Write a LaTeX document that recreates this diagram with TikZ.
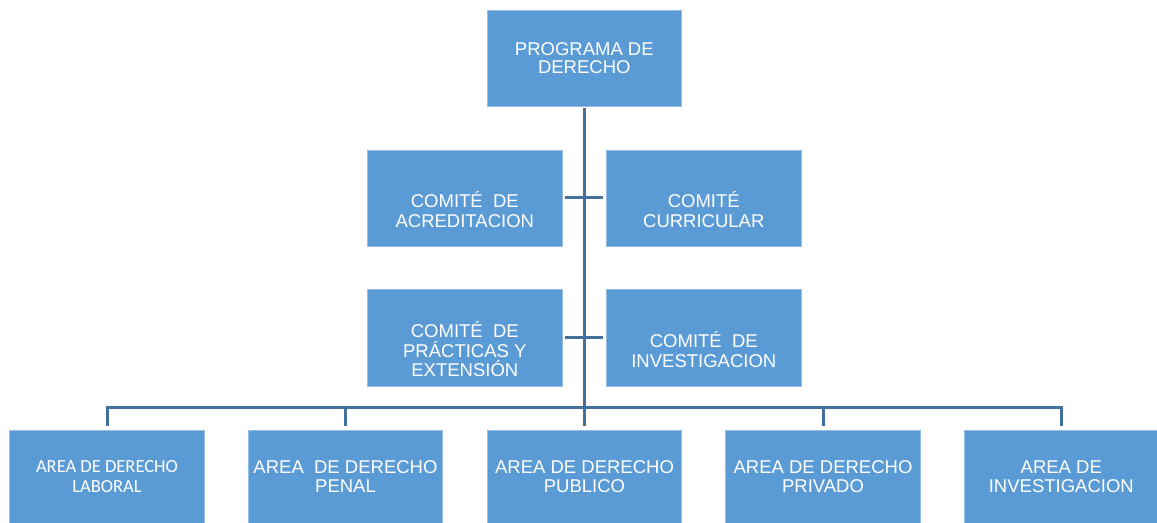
\documentclass[tikz,border=0pt]{standalone}
\usepackage{fontspec}
\setmainfont{Liberation Sans}
\newfontfamily\calib{Carlito}
\definecolor{boxblue}{HTML}{5B9BD5}
\definecolor{lineblue}{HTML}{41719C}
\begin{document}
\begin{tikzpicture}[x=1bp,y=-1bp,
  box/.style={rectangle, fill=boxblue, draw=white!35!boxblue, line width=0.6bp,
    minimum width=194.5bp, minimum height=96bp, inner sep=0pt, text=white,
    align=center, font=\fontsize{18.5bp}{18.5bp}\selectfont},
  lowbox/.style={box, minimum height=93bp},
  cmtext/.style={text=white, align=center, inner sep=0pt, yshift=-11.5bp,
    font=\fontsize{18.5bp}{20bp}\selectfont},
  conn/.style={draw=lineblue, line width=3bp, line join=miter}]
\useasboundingbox (0,0) rectangle (1157,523);
\clip (0,0) rectangle (1157,523);
% top
\node[box] (top) at (584.3,58) {PROGRAMA DE\\DERECHO};
% committees
\node[box, label={[name=c1t, cmtext]center:{COMITÉ\ \ DE\\ACREDITACION}}] (c1) at (464.8,198) {};
\node[box, label={[name=c2t, cmtext]center:{COMITÉ\\CURRICULAR}}] (c2) at (703.8,198) {};
\node[box, label={[name=c3t, cmtext, font=\fontsize{18.5bp}{19.5bp}\selectfont]center:{COMITÉ\ \ DE\\PRÁCTICAS Y\\EXTENSIÓN}}] (c3) at (464.8,337.8) {};
\node[box, label={[name=c4t, cmtext]center:{COMITÉ\ \ DE\\INVESTIGACION}}] (c4) at (703.8,337.8) {};
% bottom areas
\node[lowbox, font=\calib\fontsize{18.5bp}{20bp}\selectfont] (b1) at (107,476.5) {AREA DE DERECHO\\LABORAL};
\node[lowbox] (b2) at (345.5,476.5) {AREA\ \ DE DERECHO\\PENAL};
\node[lowbox, font=\fontsize{18.5bp}{19bp}\selectfont] (b3) at (584.5,476.5) {AREA DE DERECHO\\PUBLICO};
\node[lowbox, font=\fontsize{18.5bp}{19bp}\selectfont] (b4) at (823,476.5) {AREA DE DERECHO\\PRIVADO};
\node[lowbox, font=\fontsize{18.5bp}{19bp}\selectfont] (b5) at (1061.3,476.5) {AREA DE\\INVESTIGACION};
% connectors
\coordinate (vend) at ([yshift=3.3bp]b3.north);
\draw[conn] ([yshift=-2bp]top.south) -- (top.south |- vend);
\draw[conn] ([xshift=2.7bp]c1.east) -- ([xshift=-3.7bp]c2.west);
\draw[conn] ([xshift=2.7bp]c3.east) -- ([xshift=-3.7bp]c4.west);
\draw[conn] ([yshift=3.3bp]b1.north) -- ([yshift=22.3bp]b1.north) -- ([yshift=22.3bp]b5.north) -- ([yshift=3.3bp]b5.north);
\draw[conn] ([yshift=3.3bp]b2.north) -- ([yshift=22.3bp]b2.north);
\draw[conn] ([yshift=3.3bp]b4.north) -- ([yshift=22.3bp]b4.north);
\end{tikzpicture}
\end{document}
